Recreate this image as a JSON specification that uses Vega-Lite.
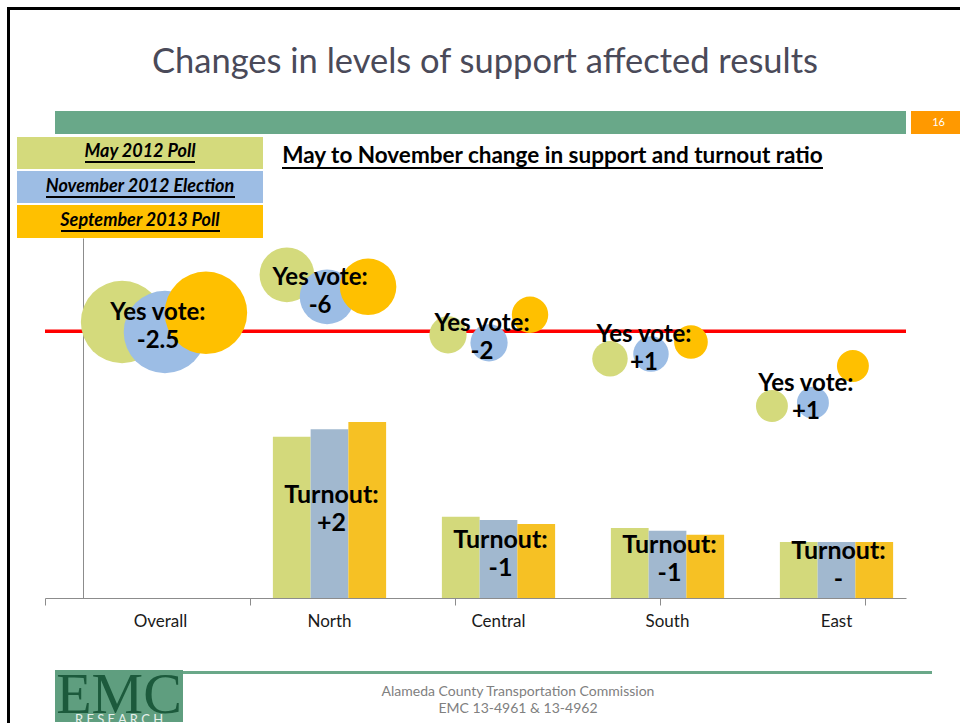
{
  "$schema": "https://vega.github.io/schema/vega-lite/v6.json",
  "background": "white",
  "padding": {"left": 7, "top": 7, "right": 0, "bottom": 0},
  "config": {"view": {"stroke": null}, "font": "Lato", "concat": {"spacing": 0}},
  "datasets": {
    "bars": [
      {"region": "North", "series": "May 2012 Poll", "share": 40.3},
      {"region": "North", "series": "November 2012 Election", "share": 42.2, "label": "Turnout:\n+2"},
      {"region": "North", "series": "September 2013 Poll", "share": 44.0},
      {"region": "Central", "series": "May 2012 Poll", "share": 20.3},
      {"region": "Central", "series": "November 2012 Election", "share": 19.5, "label": "Turnout:\n-1"},
      {"region": "Central", "series": "September 2013 Poll", "share": 18.5},
      {"region": "South", "series": "May 2012 Poll", "share": 17.5},
      {"region": "South", "series": "November 2012 Election", "share": 16.8, "label": "Turnout:\n-1"},
      {"region": "South", "series": "September 2013 Poll", "share": 15.8},
      {"region": "East", "series": "May 2012 Poll", "share": 14.0},
      {"region": "East", "series": "November 2012 Election", "share": 14.0, "label": "Turnout:\n-"},
      {"region": "East", "series": "September 2013 Poll", "share": 14.0}
    ],
    "bubbles": [
      {"region": "Overall", "series": "May 2012 Poll", "bx": 0.376, "support": 69.0, "bsize": 100},
      {"region": "Overall", "series": "November 2012 Election", "bx": 0.585, "support": 66.5, "bsize": 100, "label": "Yes vote:\n-2.5"},
      {"region": "Overall", "series": "September 2013 Poll", "bx": 0.785, "support": 71.3, "bsize": 100},
      {"region": "North", "series": "May 2012 Poll", "bx": 1.18, "support": 80.8, "bsize": 44},
      {"region": "North", "series": "November 2012 Election", "bx": 1.376, "support": 75.3, "bsize": 44, "label": "Yes vote:\n-6"},
      {"region": "North", "series": "September 2013 Poll", "bx": 1.576, "support": 77.8, "bsize": 47},
      {"region": "Central", "series": "May 2012 Poll", "bx": 1.966, "support": 65.8, "bsize": 20.4},
      {"region": "Central", "series": "November 2012 Election", "bx": 2.166, "support": 63.8, "bsize": 20.4, "label": "Yes vote:\n-2"},
      {"region": "Central", "series": "September 2013 Poll", "bx": 2.366, "support": 70.8, "bsize": 19.5},
      {"region": "South", "series": "May 2012 Poll", "bx": 2.756, "support": 59.8, "bsize": 18.5},
      {"region": "South", "series": "November 2012 Election", "bx": 2.956, "support": 61.0, "bsize": 18.5, "label": "Yes vote:\n+1"},
      {"region": "South", "series": "September 2013 Poll", "bx": 3.151, "support": 64.0, "bsize": 16.7},
      {"region": "East", "series": "May 2012 Poll", "bx": 3.546, "support": 48.0, "bsize": 15},
      {"region": "East", "series": "November 2012 Election", "bx": 3.746, "support": 48.8, "bsize": 15, "label": "Yes vote:\n+1"},
      {"region": "East", "series": "September 2013 Poll", "bx": 3.941, "support": 58.0, "bsize": 15}
    ],
    "threshold": [{"name": "Two-thirds threshold", "threshold": 66.7}]
  },
  "spacing": 0,
  "hconcat": [
    {"width": 3, "height": 716, "view": {"fill": "#000000", "stroke": null}, "data": {"values": []}, "mark": "point"},
    {
      "spacing": 0,
      "vconcat": [
        {"width": 950, "height": 3, "view": {"fill": "#000000", "stroke": null}, "data": {"values": []}, "mark": "point"},
        {
          "width": 950, "height": 101,
          "data": {"values": [{"title": "Changes in levels of support affected results"}]},
          "mark": {"type": "text", "fontSize": 34.5, "color": "#4a4a59", "font": "Lato", "dy": 2},
          "encoding": {"text": {"field": "title"}}
        },
        {
          "spacing": 0,
          "hconcat": [
            {"width": 45, "height": 23, "data": {"values": []}, "mark": "point"},
            {"width": 851, "height": 23, "view": {"fill": "#69a889", "stroke": null}, "data": {"values": []}, "mark": "point"},
            {"width": 5, "height": 23, "data": {"values": []}, "mark": "point"},
            {
              "width": 49, "height": 23, "view": {"fill": "#ff9900", "stroke": null},
              "data": {"values": [{"page": "16"}]},
              "mark": {"type": "text", "color": "#ffffff", "fontSize": 11, "dx": 3},
              "encoding": {"text": {"field": "page"}}
            }
          ]
        },
        {"width": 950, "height": 3, "data": {"values": []}, "mark": "point"},
        {
          "spacing": 0,
          "hconcat": [
            {"width": 7, "height": 101, "data": {"values": []}, "mark": "point"},
            {
              "spacing": 2,
              "vconcat": [
                {
                  "spacing": 0,
                  "vconcat": [
                    {
                      "width": 246, "height": 24, "view": {"fill": "#d4da7c", "stroke": null},
                      "data": {"values": [{"series": "May 2012 Poll"}]},
                      "mark": {"type": "text", "fontSize": 18, "fontWeight": "bold", "fontStyle": "italic", "color": "#000000", "dy": 2.5},
                      "encoding": {"text": {"field": "series"}}
                    },
                    {
                      "spacing": 0,
                      "hconcat": [
                        {"width": 68, "height": 2, "view": {"fill": "#d4da7c", "stroke": null}, "data": {"values": []}, "mark": "point"},
                        {"width": 110, "height": 2, "view": {"fill": "#000000", "stroke": null}, "data": {"values": []}, "mark": "point"},
                        {"width": 68, "height": 2, "view": {"fill": "#d4da7c", "stroke": null}, "data": {"values": []}, "mark": "point"}
                      ]
                    },
                    {"width": 246, "height": 6, "view": {"fill": "#d4da7c", "stroke": null}, "data": {"values": []}, "mark": "point"}
                  ]
                },
                {
                  "spacing": 0,
                  "vconcat": [
                    {
                      "width": 246, "height": 25, "view": {"fill": "#9dbde4", "stroke": null},
                      "data": {"values": [{"series": "November 2012 Election"}]},
                      "mark": {"type": "text", "fontSize": 18, "fontWeight": "bold", "fontStyle": "italic", "color": "#000000", "dy": 3},
                      "encoding": {"text": {"field": "series"}}
                    },
                    {
                      "spacing": 0,
                      "hconcat": [
                        {"width": 29, "height": 2, "view": {"fill": "#9dbde4", "stroke": null}, "data": {"values": []}, "mark": "point"},
                        {"width": 189, "height": 2, "view": {"fill": "#000000", "stroke": null}, "data": {"values": []}, "mark": "point"},
                        {"width": 28, "height": 2, "view": {"fill": "#9dbde4", "stroke": null}, "data": {"values": []}, "mark": "point"}
                      ]
                    },
                    {"width": 246, "height": 5, "view": {"fill": "#9dbde4", "stroke": null}, "data": {"values": []}, "mark": "point"}
                  ]
                },
                {
                  "spacing": 0,
                  "vconcat": [
                    {
                      "width": 246, "height": 25, "view": {"fill": "#ffc000", "stroke": null},
                      "data": {"values": [{"series": "September 2013 Poll"}]},
                      "mark": {"type": "text", "fontSize": 18, "fontWeight": "bold", "fontStyle": "italic", "color": "#000000", "dy": 3},
                      "encoding": {"text": {"field": "series"}}
                    },
                    {
                      "spacing": 0,
                      "hconcat": [
                        {"width": 44, "height": 2, "view": {"fill": "#ffc000", "stroke": null}, "data": {"values": []}, "mark": "point"},
                        {"width": 159, "height": 2, "view": {"fill": "#000000", "stroke": null}, "data": {"values": []}, "mark": "point"},
                        {"width": 43, "height": 2, "view": {"fill": "#ffc000", "stroke": null}, "data": {"values": []}, "mark": "point"}
                      ]
                    },
                    {"width": 246, "height": 6, "view": {"fill": "#ffc000", "stroke": null}, "data": {"values": []}, "mark": "point"}
                  ]
                }
              ]
            },
            {"width": 18, "height": 101, "data": {"values": []}, "mark": "point"},
            {
              "spacing": 0,
              "vconcat": [
                {
                  "width": 541, "height": 29,
                  "data": {"values": [{"subtitle": "May to November change in support and turnout ratio"}]},
                  "mark": {"type": "text", "fontSize": 22.5, "fontWeight": "bold", "color": "#000000", "dy": 4},
                  "encoding": {"text": {"field": "subtitle"}}
                },
                {"width": 541, "height": 2, "view": {"fill": "#000000", "stroke": null}, "data": {"values": []}, "mark": "point"}
              ]
            }
          ]
        },
        {
          "spacing": 0,
          "hconcat": [
            {"width": 33, "height": 360, "data": {"values": []}, "mark": "point"},
            {
              "width": 861, "height": 360,
              "resolve": {"scale": {"x": "independent", "y": "independent", "color": "independent"}},
              "layer": [
                {
                  "data": {"name": "bars"},
                  "mark": {"type": "bar"},
                  "encoding": {
                    "x": {"field": "region", "type": "nominal",
                      "scale": {"domain": ["Overall", "North", "Central", "South", "East"], "range": [31, 876], "paddingInner": 0.33, "paddingOuter": 0.165},
                      "axis": {"title": null, "domain": false, "ticks": false, "labelPadding": 15, "labelFontSize": 17, "labelColor": "#1a1a1a", "labelAngle": 0, "labelFont": "Lato"}},
                    "xOffset": {"field": "series", "type": "nominal",
                      "scale": {"domain": ["May 2012 Poll", "November 2012 Election", "September 2013 Poll"], "paddingInner": 0, "paddingOuter": 0}},
                    "y": {"field": "share", "type": "quantitative", "scale": {"domain": [0, 90], "nice": false},
                      "axis": {"title": null, "labels": false, "ticks": false, "grid": false, "domainColor": "#8c8c8c", "offset": -38}},
                    "color": {"field": "series", "type": "nominal",
                      "scale": {"domain": ["May 2012 Poll", "November 2012 Election", "September 2013 Poll"], "range": ["#d3d97b", "#a1b8cf", "#f6c124"]},
                      "legend": null}
                  }
                },
                {
                  "data": {"name": "threshold"},
                  "mark": {"type": "rule", "color": "#ff0000", "strokeWidth": 3.5},
                  "encoding": {
                    "y": {"field": "threshold", "type": "quantitative", "scale": {"domain": [0, 90], "nice": false}, "axis": null}
                  }
                },
                {
                  "data": {"name": "bubbles"},
                  "mark": {"type": "circle", "opacity": 1},
                  "encoding": {
                    "x": {"field": "bx", "type": "quantitative", "scale": {"domain": [0, 4.2], "nice": false, "zero": false},
                      "axis": {"orient": "bottom", "values": [0, 1, 2, 3, 4], "labels": false, "title": null, "grid": false, "tickSize": 7, "tickColor": "#8c8c8c", "domainColor": "#8c8c8c"}},
                    "y": {"field": "support", "type": "quantitative", "scale": {"domain": [0, 90], "nice": false}, "axis": null},
                    "size": {"field": "bsize", "type": "quantitative", "scale": {"domain": [0, 100], "range": [0, 6800]}, "legend": null},
                    "color": {"field": "series", "type": "nominal",
                      "scale": {"domain": ["May 2012 Poll", "November 2012 Election", "September 2013 Poll"], "range": ["#d4da7c", "#9cbde5", "#ffc000"]},
                      "legend": null}
                  }
                },
                {
                  "data": {"name": "bubbles"},
                  "transform": [{"filter": "datum.label != null"}],
                  "mark": {"type": "text", "fontSize": 24, "fontWeight": "bold", "lineBreak": "\n", "lineHeight": 28, "dx": -7, "dy": -19, "color": "#000000"},
                  "encoding": {
                    "x": {"field": "bx", "type": "quantitative", "scale": {"domain": [0, 4.2], "nice": false, "zero": false}, "axis": null},
                    "y": {"field": "support", "type": "quantitative", "scale": {"domain": [0, 90], "nice": false}, "axis": null},
                    "text": {"field": "label"}
                  }
                },
                {
                  "data": {"name": "bars"},
                  "transform": [{"filter": "datum.label != null"}],
                  "mark": {"type": "text", "fontSize": 25, "fontWeight": "bold", "lineBreak": "\n", "lineHeight": 28, "dx": 2, "dy": -19, "color": "#000000"},
                  "encoding": {
                    "x": {"field": "region", "type": "nominal",
                      "scale": {"domain": ["Overall", "North", "Central", "South", "East"], "range": [31, 876], "paddingInner": 0.33, "paddingOuter": 0.165},
                      "axis": null},
                    "y": {"field": "share", "type": "quantitative", "scale": {"domain": [0, 180], "nice": false}, "axis": null},
                    "text": {"field": "label"}
                  }
                }
              ]
            }
          ]
        },
        {"width": 950, "height": 41, "data": {"values": []}, "mark": "point"},
        {
          "spacing": 0,
          "hconcat": [
            {"width": 45, "height": 52, "data": {"values": []}, "mark": "point"},
            {
              "width": 128, "height": 52, "view": {"fill": "#5f9e7f", "stroke": null},
              "layer": [
                {
                  "data": {"values": [{"logo": "EMC"}]},
                  "mark": {"type": "text", "font": "Liberation Serif", "fontSize": 58, "color": "#1c5a3c", "dy": 0, "clip": true},
                  "encoding": {"text": {"field": "logo"}}
                },
                {
                  "data": {"values": [{"logo": "R E S E A R C H"}]},
                  "mark": {"type": "text", "fontSize": 13, "color": "#e8f0ec", "baseline": "top", "dy": 18, "clip": true},
                  "encoding": {"text": {"field": "logo"}}
                }
              ]
            },
            {
              "spacing": 0,
              "vconcat": [
                {"width": 749, "height": 1, "data": {"values": []}, "mark": "point"},
                {"width": 749, "height": 3, "view": {"fill": "#6aa889", "stroke": null}, "data": {"values": []}, "mark": "point"},
                {
                  "width": 670, "height": 48,
                  "data": {"values": [{"footer": "Alameda County Transportation Commission\nEMC 13-4961 & 13-4962"}]},
                  "mark": {"type": "text", "fontSize": 14, "lineBreak": "\n", "lineHeight": 17, "color": "#808080", "dy": -6},
                  "encoding": {"text": {"field": "footer"}}
                }
              ]
            }
          ]
        }
      ]
    }
  ]
}
